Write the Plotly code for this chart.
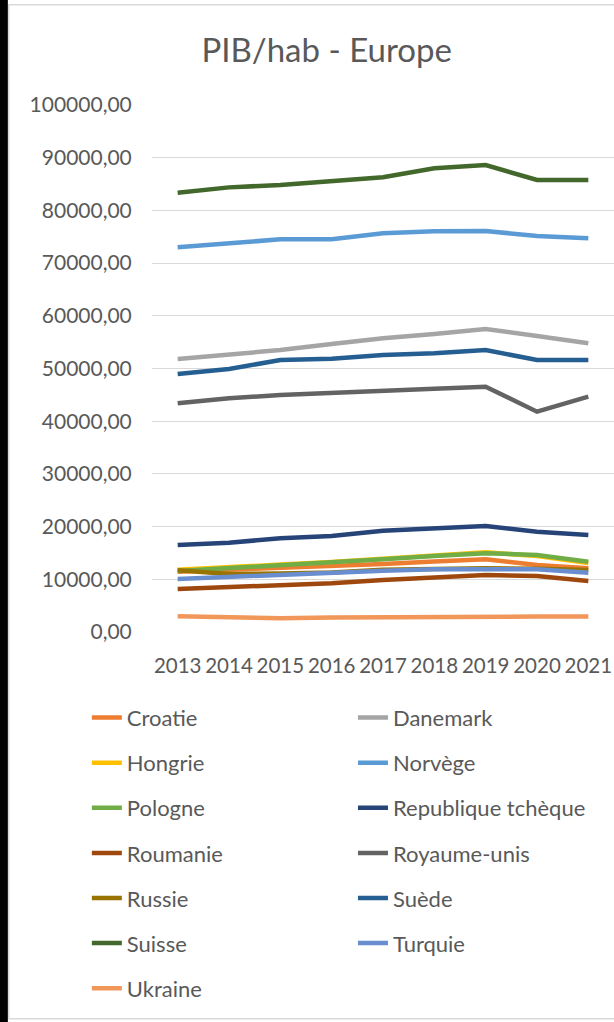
import plotly.graph_objects as go

years = [2013, 2014, 2015, 2016, 2017, 2018, 2019, 2020, 2021]

croatie = [11440, 11800, 12100, 12400, 12900, 13400, 13790, 12710, 12090]
danemark = [51800, 52560, 53510, 54650, 55730, 56550, 57500, 56170, 54780]
hongrie = [11800, 12200, 12800, 13300, 13900, 14600, 15150, 14400, 13100]
norvege = [73000, 73760, 74510, 74510, 75650, 76030, 76090, 75140, 74700]
pologne = [11570, 12090, 12710, 13150, 13790, 14420, 14930, 14610, 13340]
rep_tcheque = [16510, 16950, 17780, 18220, 19220, 19680, 20110, 19030, 18410]
roumanie = [8160, 8480, 8790, 9240, 9870, 10380, 10820, 10630, 9680]
royaume_unis = [43400, 44340, 44970, 45410, 45920, 46170, 46550, 41800, 44650]
russie = [11700, 11000, 11100, 11300, 11800, 12000, 12100, 12000, 11760]
suede = [48960, 49900, 51610, 51860, 52560, 52880, 53510, 51610, 51610]
suisse = [83360, 84370, 84820, 85580, 86280, 88000, 88610, 85770, 85770]
turquie = [10060, 10490, 10820, 11140, 11630, 11900, 11950, 11900, 11250]
ukraine = [2980, 2790, 2600, 2730, 2790, 2920, 3040, 2920, 2920]

series = [
    ("Croatie", croatie, "#ED7D31"),
    ("Danemark", danemark, "#A5A5A5"),
    ("Hongrie", hongrie, "#FFC000"),
    ("Norvège", norvege, "#5B9BD5"),
    ("Pologne", pologne, "#70AD47"),
    ("Republique tchèque", rep_tcheque, "#264478"),
    ("Roumanie", roumanie, "#9E480E"),
    ("Royaume-unis", royaume_unis, "#636363"),
    ("Russie", russie, "#997300"),
    ("Suède", suede, "#255E91"),
    ("Suisse", suisse, "#43682B"),
    ("Turquie", turquie, "#698ED0"),
    ("Ukraine", ukraine, "#F1975A"),
]

y_ticks = [0, 10000, 20000, 30000, 40000, 50000, 60000, 70000, 80000, 90000, 100000]
y_labels = [f"{v},00" for v in y_ticks]

txt = "#595959"
font = "Lato"

fig = go.Figure()
for i, (name, vals, col) in enumerate(series):
    fig.add_trace(go.Scatter(
        x=years, y=vals, mode="lines", name=name,
        line=dict(color=col, width=4.5),
        legend="legend" if i % 2 == 0 else "legend2",
        legendgroup=name,
    ))

leg = dict(font=dict(family=font, size=22, color=txt), tracegroupgap=13.5,
           bgcolor="rgba(0,0,0,0)", yanchor="top", xanchor="left")

fig.update_layout(
    width=614, height=1022,
    margin=dict(l=152, r=0, t=105, b=390),
    paper_bgcolor="white", plot_bgcolor="white",
    title=dict(text="PIB/hab - Europe", x=0.532, xanchor="center", y=0.951, yanchor="middle",
               font=dict(family=font, size=33, color=txt)),
    xaxis=dict(range=[2012.5, 2021.5], tickvals=years, ticktext=[str(y) for y in years],
               showgrid=False, zeroline=False, ticks="outside", ticklen=15,
               tickcolor="rgba(0,0,0,0)", tickfont=dict(family=font, size=20.5, color=txt)),
    yaxis=dict(range=[0, 100000], tickvals=y_ticks, ticktext=y_labels,
               showgrid=True, gridcolor="#d9d9d9", gridwidth=1, zeroline=False,
               ticks="outside", ticklen=15, tickcolor="rgba(0,0,0,0)",
               tickfont=dict(family=font, size=21, color=txt)),
    legend=dict(x=-0.141, y=-0.123, **leg),
    legend2=dict(x=0.435, y=-0.123, **leg),
    showlegend=True,
    shapes=[
        dict(type="rect", xref="paper", yref="paper", x0=-0.310, x1=1.01, y0=-0.734, y1=1.19,
             line=dict(color="#d9d9d9", width=1.5), layer="below"),
        dict(type="rect", xref="paper", yref="paper", x0=-0.33, x1=-0.312, y0=-0.75, y1=1.21,
             fillcolor="black", line=dict(width=0), layer="below"),
    ],
)

fig.write_html("out.html", config={"displayModeBar": False},
               post_script="document.body.style.margin='0';document.body.style.overflow='hidden';")
